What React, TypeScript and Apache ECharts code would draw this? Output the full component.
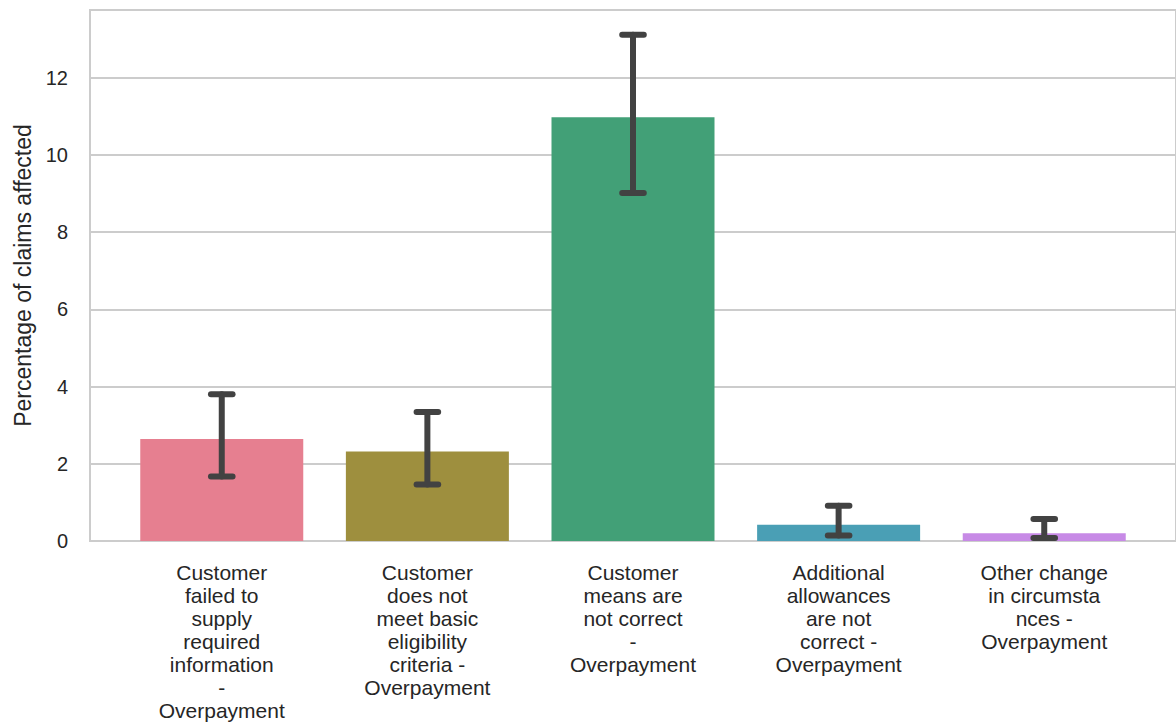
import React, { useEffect, useRef } from "react";
import * as echarts from "echarts";

const categories = [
  "Customer\nfailed to\nsupply\nrequired\ninformation\n-\nOverpayment",
  "Customer\ndoes not\nmeet basic\neligibility\ncriteria -\nOverpayment",
  "Customer\nmeans are\nnot correct\n-\nOverpayment",
  "Additional\nallowances\nare not\ncorrect -\nOverpayment",
  "Other change\nin circumsta\nnces -\nOverpayment",
];
const values = [2.64, 2.32, 10.97, 0.42, 0.2];
const errLow = [1.67, 1.46, 9.01, 0.14, 0.08];
const errHigh = [3.8, 3.34, 13.11, 0.91, 0.57];
const barColors = ["#e67f90", "#9e8f3e", "#42a077", "#4a9fb5", "#c78ae6"];
const yTicks = [0, 2, 4, 6, 8, 10, 12];

const FONT = "'Liberation Sans', Arial, Helvetica, sans-serif";

export default function App() {
  const ref = useRef<HTMLDivElement>(null);
  useEffect(() => {
    if (!ref.current) return;
    const chart = echarts.init(ref.current, undefined, { renderer: "svg" });
    const barData = values.map((v, i) => ({
      value: [i, v],
      itemStyle: { color: barColors[i] },
    }));
    const errData = values.map((_, i) => [i, errLow[i], errHigh[i]]);
    chart.setOption({
      animation: false,
      backgroundColor: "#ffffff",
      grid: {
        left: 90,
        top: 10,
        width: 1088,
        bottom: 183,
        show: true,
        borderColor: "#cccccc",
        borderWidth: 2,
        containLabel: false,
      },
      xAxis: {
        type: "value",
        min: -0.6408,
        max: 4.6408,
        axisLine: { show: true, onZero: false, lineStyle: { color: "#cccccc", width: 2 } },
        axisTick: { show: false },
        splitLine: { show: false },
        axisLabel: {
          customValues: [0, 1, 2, 3, 4],
          formatter: (v: number) => categories[Math.round(v)] ?? "",
          color: "#262626",
          fontSize: 21,
          lineHeight: 23,
          fontFamily: FONT,
          margin: 20,
          align: "center",
        },
      },
      yAxis: {
        type: "value",
        min: 0,
        max: 13.75,
        interval: 2,
        name: "Percentage of claims affected",
        nameLocation: "middle",
        nameGap: 56,
        nameTextStyle: { color: "#262626", fontSize: 23, fontFamily: FONT },
        axisLine: { show: false, onZero: false },
        axisTick: { show: false },
        splitLine: { show: true, lineStyle: { color: "#cccccc", width: 2 } },
        axisLabel: {
          color: "#262626",
          fontSize: 20,
          fontFamily: FONT,
          margin: 22,
          showMaxLabel: false,
          formatter: (v: number) => (yTicks.includes(v) ? String(v) : ""),
        },
      },
      series: [
        {
          type: "bar",
          data: barData,
          barWidth: 163,
          z: 2,
        },
        {
          type: "custom",
          data: errData,
          z: 5,
          encode: { x: 0, y: [1, 2] },
          renderItem: (params: any, api: any) => {
            const x = api.value(0);
            const lo = api.coord([x, api.value(1)]);
            const hi = api.coord([x, api.value(2)]);
            const half = api.size([0.105, 0])[0] / 2;
            const style = {
              stroke: "#424242",
              lineWidth: 6,
              lineCap: "round",
            };
            return {
              type: "group",
              children: [
                { type: "line", shape: { x1: lo[0], y1: lo[1], x2: hi[0], y2: hi[1] }, style },
                { type: "line", shape: { x1: lo[0] - half, y1: lo[1], x2: lo[0] + half, y2: lo[1] }, style },
                { type: "line", shape: { x1: hi[0] - half, y1: hi[1], x2: hi[0] + half, y2: hi[1] }, style },
              ],
            };
          },
        },
      ],
    });
    return () => chart.dispose();
  }, []);
  return (
    <div
      ref={ref}
      style={{ position: "absolute", left: 0, top: 0, width: 1176, height: 724 }}
    />
  );
}
